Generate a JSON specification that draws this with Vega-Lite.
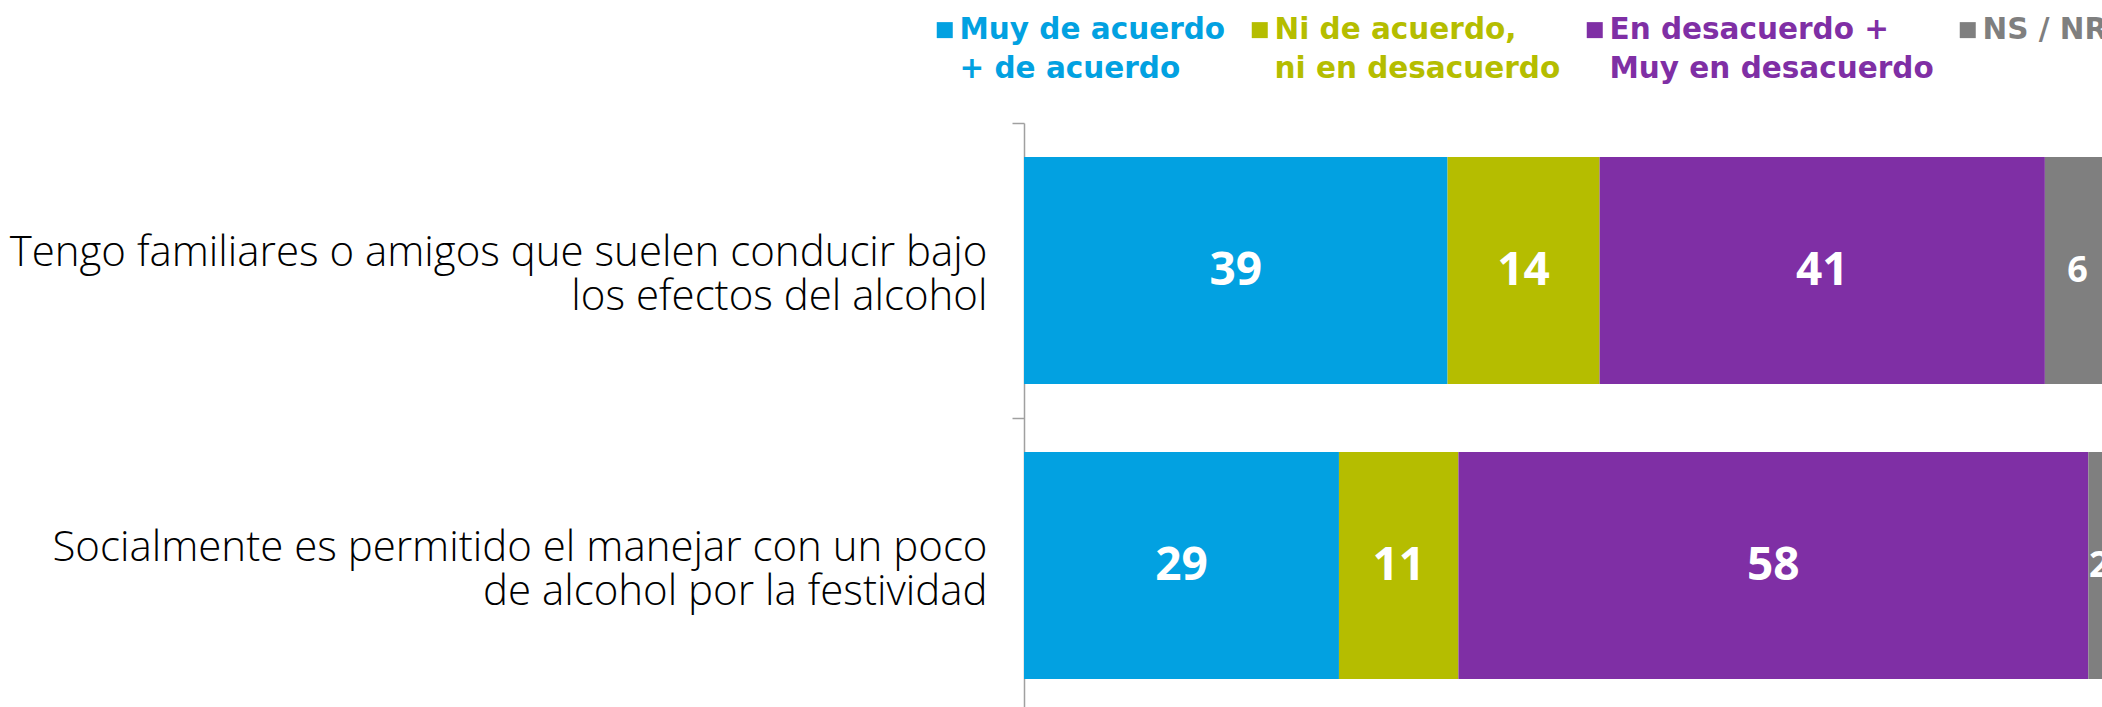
{
  "$schema": "https://vega.github.io/schema/vega-lite/v6.json",
  "autosize": "none",
  "width": 1078,
  "height": 584,
  "padding": {"left": 1024, "top": 123, "right": 0, "bottom": 0},
  "background": "white",
  "config": {"view": {"stroke": null}},
  "data": {"values": [
    {"item": "Tengo familiares o amigos que suelen conducir bajo los efectos del alcohol", "cat": "Muy de acuerdo + de acuerdo", "value": 39},
    {"item": "Tengo familiares o amigos que suelen conducir bajo los efectos del alcohol", "cat": "Ni de acuerdo, ni en desacuerdo", "value": 14},
    {"item": "Tengo familiares o amigos que suelen conducir bajo los efectos del alcohol", "cat": "En desacuerdo + Muy en desacuerdo", "value": 41},
    {"item": "Tengo familiares o amigos que suelen conducir bajo los efectos del alcohol", "cat": "NS / NR", "value": 6},
    {"item": "Socialmente es permitido el manejar con un poco de alcohol por la festividad", "cat": "Muy de acuerdo + de acuerdo", "value": 29},
    {"item": "Socialmente es permitido el manejar con un poco de alcohol por la festividad", "cat": "Ni de acuerdo, ni en desacuerdo", "value": 11},
    {"item": "Socialmente es permitido el manejar con un poco de alcohol por la festividad", "cat": "En desacuerdo + Muy en desacuerdo", "value": 58},
    {"item": "Socialmente es permitido el manejar con un poco de alcohol por la festividad", "cat": "NS / NR", "value": 2}
  ]},
  "transform": [
    {"calculate": "indexof(['Muy de acuerdo + de acuerdo', 'Ni de acuerdo, ni en desacuerdo', 'En desacuerdo + Muy en desacuerdo', 'NS / NR'], datum.cat)", "as": "ord"}
  ],
  "resolve": {"axis": {"y": "independent"}},
  "layer": [
    {
      "mark": {"type": "bar", "height": {"band": 0.77}},
      "encoding": {
        "y": {
          "field": "item", "type": "nominal", "sort": null, "title": null,
          "scale": {"paddingInner": 0, "paddingOuter": 0, "range": [0, 590]},
          "axis": {
            "orient": "left",
            "domain": false, "ticks": false, "tickSize": 0,
            "labelPadding": 37,
            "labelOffset": -18,
            "labelFont": "Open Sans", "labelFontSize": 42, "labelFontWeight": 300,
            "labelColor": "#000000", "labelLimit": 1200, "labelLineHeight": 44,
            "labelExpr": "datum.label == 'Tengo familiares o amigos que suelen conducir bajo los efectos del alcohol' ? ['Tengo familiares o amigos que suelen conducir bajo', 'los efectos del alcohol'] : ['Socialmente es permitido el manejar con un poco', 'de alcohol por la festividad']"
          }
        },
        "x": {"field": "value", "type": "quantitative", "stack": "zero", "axis": null,
              "scale": {"domain": [0, 99.26], "nice": false, "zero": true}},
        "order": {"field": "ord", "type": "quantitative"},
        "color": {
          "field": "cat", "type": "nominal",
          "sort": ["Muy de acuerdo + de acuerdo", "Ni de acuerdo, ni en desacuerdo", "En desacuerdo + Muy en desacuerdo", "NS / NR"],
          "scale": {
            "domain": ["Muy de acuerdo + de acuerdo", "Ni de acuerdo, ni en desacuerdo", "En desacuerdo + Muy en desacuerdo", "NS / NR"],
            "range": ["#02A1E1", "#B5BD00", "#7F2FA5", "#7F7F7F"]
          },
          "legend": {
            "title": null,
            "orient": "none",
            "legendX": -94,
            "legendY": -108,
            "direction": "horizontal",
            "columns": 4,
            "columnPadding": 19,
            "symbolType": "square",
            "symbolSize": 256,
            "symbolStrokeWidth": 0,
            "labelOffset": 0,
            "labelFont": "DejaVu Sans",
            "labelFontSize": 29.5,
            "labelFontWeight": "bold",
            "labelLimit": 800,
            "labelColor": {"expr": "scale('color', datum.value)"},
            "labelExpr": "datum.label == 'Muy de acuerdo + de acuerdo' ? ['Muy de acuerdo', '+ de acuerdo'] : datum.label == 'Ni de acuerdo, ni en desacuerdo' ? ['Ni de acuerdo,', 'ni en desacuerdo'] : datum.label == 'En desacuerdo + Muy en desacuerdo' ? ['En desacuerdo +', 'Muy en desacuerdo'] : ['NS / NR', '']",
            "encoding": {"labels": {"lineHeight": {"value": 39}}}
          }
        }
      }
    },
    {
      "mark": {"type": "text", "color": "white", "font": "Open Sans", "fontWeight": "bold", "baseline": "middle", "align": "center"},
      "encoding": {
        "y": {
          "field": "item", "type": "nominal", "sort": null, "title": null,
          "axis": {
            "orient": "left",
            "labels": false,
            "bandPosition": 0,
            "domainColor": "#a0a0a0", "domainWidth": 1.5,
            "tickColor": "#a0a0a0", "tickWidth": 1.5, "tickSize": 12
          }
        },
        "x": {"field": "value", "type": "quantitative", "stack": "zero", "bandPosition": 0.5},
        "order": {"field": "ord", "type": "quantitative"},
        "detail": {"field": "cat"},
        "text": {"field": "value", "type": "quantitative"},
        "size": {"condition": {"test": "datum.value < 10", "value": 36}, "value": 46}
      }
    }
  ]
}
